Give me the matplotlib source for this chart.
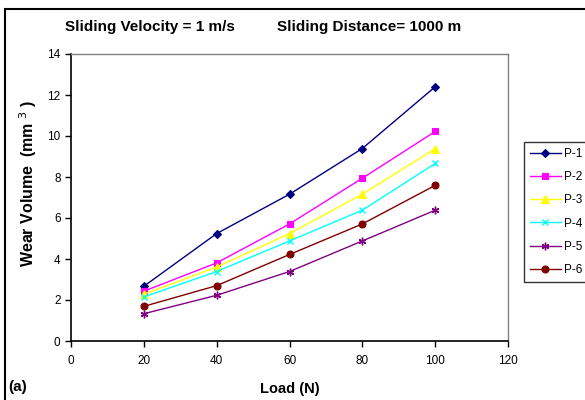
import matplotlib
matplotlib.use("Agg")
import matplotlib.pyplot as plt
from matplotlib.patches import Rectangle

plt.rcParams['font.family'] = ['Liberation Sans', 'DejaVu Sans']

loads = [20, 40, 60, 80, 100]
series_names = ["P-1", "P-2", "P-3", "P-4", "P-5", "P-6"]
p1 = [2.67, 5.24, 7.16, 9.39, 12.4]
p2 = [2.43, 3.81, 5.71, 7.94, 10.22]
p3 = [2.28, 3.61, 5.24, 7.16, 9.38]
p4 = [2.15, 3.39, 4.88, 6.38, 8.66]
p5 = [1.33, 2.23, 3.39, 4.88, 6.38]
p6 = [1.69, 2.70, 4.22, 5.71, 7.59]
values = [p1, p2, p3, p4, p5, p6]

colors = ["#000080", "#FF00FF", "#FFFF00", "#00FFFF", "#800080", "#800000"]
markers = ["D", "s", "^", "x", (6, 2, 0), "o"]
msizes = [4.5, 5, 6, 5, 5.5, 5]

fig = plt.figure(figsize=(5.85, 4.0), dpi=100)
W, H = 585, 400
ax = fig.add_axes([71 / W, 1 - 341 / H, (508 - 71) / W, (341 - 54) / H])

for name, vals, c, m, ms in zip(series_names, values, colors, markers, msizes):
    ax.plot(loads, vals, color=c, marker=m, markersize=ms, linewidth=1.0,
            label=name, markeredgewidth=1.0 if m in ("x", (6, 2, 0)) else 0.8)

ax.set_xlim(0, 120)
ax.set_ylim(0, 14)
ax.set_xticks(range(0, 121, 20))
ax.set_yticks(range(0, 15, 2))
ax.tick_params(axis='both', labelsize=8.5, direction='out', length=4, width=1)
ax.tick_params(axis='x', pad=6)
for s in ['left', 'bottom']:
    ax.spines[s].set_color('black')
    ax.spines[s].set_linewidth(1.2)
for s in ['top', 'right']:
    ax.spines[s].set_color('#808080')
    ax.spines[s].set_linewidth(1.0)

fig.text(150 / W, 1 - 27 / H, "Sliding Velocity = 1 m/s", ha='center', va='center',
         fontsize=11, fontweight='bold')
fig.text(369 / W, 1 - 27 / H, "Sliding Distance= 1000 m", ha='center', va='center',
         fontsize=11, fontweight='bold')
fig.text(290 / W, 1 - 389 / H, "Load (N)", ha='center', va='center',
         fontsize=10.5, fontweight='bold')
fig.text(8 / W, 1 - 387 / H, "(a)", ha='left', va='center',
         fontsize=11, fontweight='bold')
fig.text(28 / W, 1 - 183 / H, r"Wear Volume  (mm $^{3}$ )", ha='center', va='center',
         rotation=90, fontsize=11.5, fontweight='bold')

leg = ax.legend(loc='upper left', bbox_to_anchor=(524 / W, 1 - 142 / H),
                bbox_transform=fig.transFigure, frameon=True, fancybox=False,
                fontsize=8.5, handlelength=2.6, labelspacing=0.95,
                borderpad=0.5, handletextpad=0.3, borderaxespad=0)
leg.get_frame().set_edgecolor('black')
leg.get_frame().set_linewidth(1.0)

fig.patches.append(Rectangle((5 / W, -0.05), 1.2, 1 - 9 / H + 0.05,
                             transform=fig.transFigure, fill=False,
                             edgecolor='black', linewidth=1.5))

fig.savefig("out.png", dpi=100)
